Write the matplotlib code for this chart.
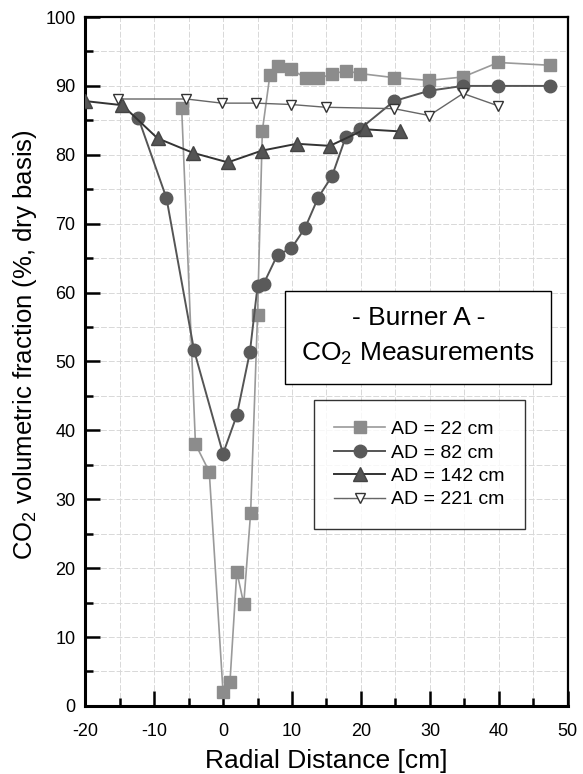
"""CO2 volumetric fraction profiles, burner A."""

import matplotlib
matplotlib.use("Agg")
import matplotlib.pyplot as plt
from matplotlib.ticker import MultipleLocator

plt.rcParams["font.family"] = ["Liberation Sans", "DejaVu Sans"]
plt.rcParams["mathtext.fontset"] = "custom"
plt.rcParams["mathtext.rm"] = "Liberation Sans"
plt.rcParams["mathtext.it"] = "Liberation Sans"
plt.rcParams["axes.unicode_minus"] = False

# AD = 22 cm
x22 = [-6, -4, -2, 0, 1, 2, 3, 4, 5, 5.7, 6.8, 8, 9.8, 12, 13.8, 15.8, 17.8, 19.8, 24.8, 29.9, 34.8, 39.9, 47.4]
y22 = [86.8, 38.0, 34.0, 2.0, 3.4, 19.5, 14.8, 28.0, 56.7, 83.5, 91.6, 92.9, 92.5, 91.1, 91.1, 91.7, 92.2, 91.8, 91.2, 90.8, 91.3, 93.4, 93.0]

# AD = 82 cm
x82 = [-12.3, -8.2, -4.2, 0, 2, 3.9, 5, 5.9, 7.9, 9.9, 11.9, 13.8, 15.8, 17.8, 19.8, 24.8, 29.9, 34.8, 39.9, 47.4]
y82 = [85.4, 73.7, 51.6, 36.6, 42.2, 51.4, 60.9, 61.3, 65.5, 66.4, 69.4, 73.8, 76.9, 82.6, 83.7, 87.8, 89.3, 90.0, 90.0, 90.0]

# AD = 142 cm
x142 = [-20, -14.6, -9.5, -4.4, 0.7, 5.6, 10.7, 15.5, 20.6, 25.6]
y142 = [87.8, 87.2, 82.4, 80.3, 78.9, 80.6, 81.6, 81.3, 83.7, 83.4]

# AD = 221 cm
x221 = [-15.2, -5.3, -0.2, 4.8, 9.9, 14.9, 24.8, 29.9, 34.8, 39.9]
y221 = [88.1, 88.1, 87.5, 87.5, 87.3, 86.9, 86.7, 85.7, 88.9, 87.1]

fig = plt.figure(figsize=(5.83, 7.74), dpi=100)
ax = fig.add_axes([0.146, 0.088, 0.828, 0.890])

ax.plot(x22, y22, color="#9a9a9a", lw=1.2, marker="s", ms=8,
        mfc="#8c8c8c", mec="#8c8c8c", label="AD = 22 cm", zorder=3)
ax.plot(x82, y82, color="#555555", lw=1.4, marker="o", ms=9,
        mfc="#5a5a5a", mec="#5a5a5a", label="AD = 82 cm", zorder=4)
ax.plot(x142, y142, color="#333333", lw=1.4, marker="^", ms=10,
        mfc="#555555", mec="#444444", label="AD = 142 cm", zorder=4)
ax.plot(x221, y221, color="#666666", lw=1.0, marker="v", ms=7,
        mfc="white", mec="#333333", mew=1.0, label="AD = 221 cm", zorder=5)

ax.set_xlim(-20, 50)
ax.set_ylim(0, 100)
ax.xaxis.set_major_locator(MultipleLocator(10))
ax.xaxis.set_minor_locator(MultipleLocator(5))
ax.yaxis.set_major_locator(MultipleLocator(10))
ax.yaxis.set_minor_locator(MultipleLocator(5))
ax.grid(True, which="both", color="#d8d8d8", lw=0.7, ls=(0, (6, 2)))
ax.set_axisbelow(True)

ax.tick_params(which="both", direction="in", top=False, right=False,
               labelsize=13, width=1.8, pad=7)
ax.tick_params(axis="x", which="both", pad=12)
ax.tick_params(which="major", length=11)
ax.tick_params(which="minor", length=6)
for side in ("left", "bottom"):
    ax.spines[side].set_linewidth(2.2)
for side in ("top", "right"):
    ax.spines[side].set_linewidth(1.6)

ax.set_xlabel("Radial Distance [cm]", fontsize=19, labelpad=7)
ax.set_ylabel("CO$_2$ volumetric fraction (%, dry basis)", fontsize=18.5)
ax.yaxis.set_label_coords(-0.095, 0.524)

ax.text(0.690, 0.536, "- Burner A -\nCO$_2$ Measurements", transform=ax.transAxes,
        ha="center", va="center", fontsize=19, linespacing=1.55,
        bbox=dict(boxstyle="square,pad=0.62", fc="white", ec="black", lw=1.0),
        zorder=6)

leg = ax.legend(loc="upper left", bbox_to_anchor=(0.474, 0.444), fontsize=14,
                handlelength=2.6, frameon=True, fancybox=False, borderpad=1.05,
                labelspacing=0.3, handletextpad=0.3, borderaxespad=0)
leg.get_frame().set_edgecolor("black")
leg.get_frame().set_linewidth(1.0)
leg.set_zorder(6)

fig.savefig("out.png", dpi=100)
